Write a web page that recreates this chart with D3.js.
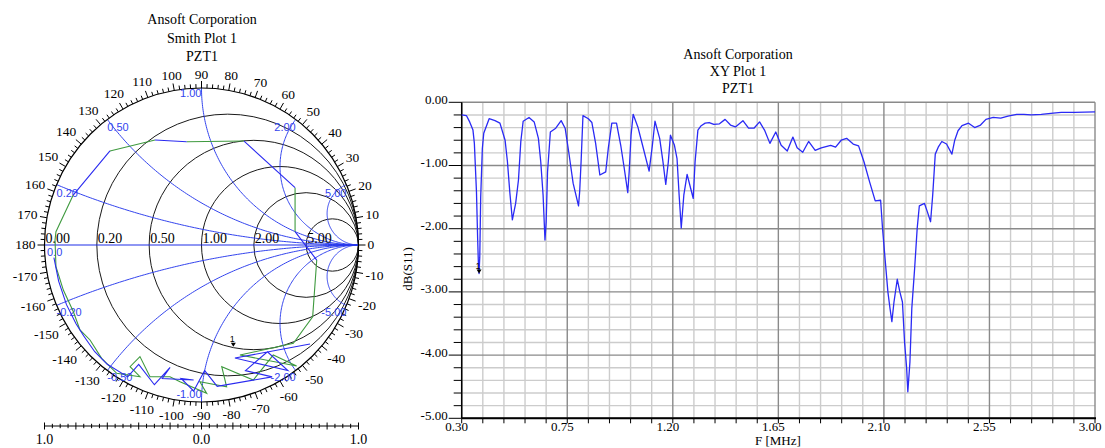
<!DOCTYPE html>
<html>
<head>
<meta charset="utf-8">
<script src="https://cdn.jsdelivr.net/npm/d3@7"></script>
<style>
  body { margin: 0; background: #ffffff; }
  svg { display: block; }
  text { font-family: "Liberation Serif", "Times New Roman", serif; fill: #000; }
  .sans { font-family: "Liberation Sans", Arial, sans-serif; }
</style>
</head>
<body>
<svg id="chart" width="1105" height="448"></svg>
<script>
// ---------------- XY plot data: dB(S11) of PZT1 versus frequency ----------------
const freqMHz = [
  0.300, 0.320, 0.334, 0.348, 0.354, 0.363, 0.368, 0.371, 0.374, 0.377, 0.381, 0.388, 0.394,
  0.417, 0.442, 0.463, 0.485, 0.495, 0.505, 0.516, 0.530, 0.542, 0.552, 0.562, 0.587, 0.609,
  0.627, 0.637, 0.647, 0.655, 0.660, 0.666, 0.678, 0.701, 0.724, 0.741, 0.758, 0.775, 0.798,
  0.803, 0.809, 0.817, 0.840, 0.855, 0.871, 0.889, 0.914, 0.925, 0.940, 0.960, 0.978, 0.992,
  1.008, 1.014, 1.022, 1.031, 1.051, 1.071, 1.099, 1.113, 1.124, 1.144, 1.158, 1.170, 1.181,
  1.190, 1.207, 1.218, 1.227, 1.236, 1.247, 1.261, 1.276, 1.287, 1.295, 1.307, 1.321, 1.338,
  1.355, 1.375, 1.399, 1.423, 1.446, 1.467, 1.499, 1.523, 1.546, 1.570, 1.591, 1.614, 1.639,
  1.662, 1.688, 1.712, 1.730, 1.754, 1.779, 1.807, 1.833, 1.873, 1.894, 1.918, 1.941, 1.969,
  1.992, 2.015, 2.039, 2.063, 2.086, 2.094, 2.106, 2.117, 2.126, 2.134, 2.143, 2.157, 2.168,
  2.179, 2.188, 2.197, 2.202, 2.211, 2.219, 2.231, 2.242, 2.251, 2.273, 2.285, 2.299, 2.308,
  2.319, 2.333, 2.347, 2.367, 2.390, 2.402, 2.416, 2.433, 2.461, 2.487, 2.512, 2.535, 2.566,
  2.598, 2.629, 2.666, 2.697, 2.728, 2.771, 2.822, 2.856, 2.913, 3.000
];
const dbS11 = [
  -0.20, -0.21, -0.31, -0.44, -0.65, -1.42, -2.16, -2.53, -2.71, -2.45, -1.50, -0.73, -0.49,
  -0.26, -0.29, -0.33, -0.60, -0.94, -1.42, -1.86, -1.60, -1.23, -0.62, -0.30, -0.24, -0.31,
  -0.57, -0.94, -1.47, -2.18, -1.90, -1.10, -0.47, -0.41, -0.29, -0.41, -0.83, -1.28, -1.64,
  -1.41, -0.94, -0.21, -0.26, -0.32, -0.65, -1.15, -1.10, -0.73, -0.33, -0.33, -0.68, -1.02,
  -1.43, -1.10, -0.52, -0.19, -0.39, -0.68, -1.09, -0.68, -0.30, -0.57, -0.94, -1.30, -0.94,
  -0.52, -0.68, -0.89, -1.47, -1.99, -1.47, -1.14, -1.36, -1.52, -0.94, -0.44, -0.37, -0.33,
  -0.32, -0.35, -0.34, -0.27, -0.36, -0.39, -0.29, -0.41, -0.41, -0.31, -0.44, -0.65, -0.47,
  -0.68, -0.77, -0.55, -0.72, -0.79, -0.62, -0.76, -0.72, -0.68, -0.71, -0.60, -0.57, -0.66,
  -0.69, -0.94, -1.26, -1.56, -1.55, -1.99, -2.52, -3.00, -3.26, -3.47, -3.16, -2.80, -3.00,
  -3.16, -3.79, -4.21, -4.58, -4.11, -3.26, -2.63, -1.99, -1.64, -1.60, -1.73, -1.89, -1.47,
  -0.82, -0.70, -0.62, -0.66, -0.82, -0.60, -0.45, -0.37, -0.33, -0.40, -0.36, -0.27, -0.24,
  -0.25, -0.22, -0.19, -0.19, -0.20, -0.19, -0.17, -0.16, -0.16, -0.15
];
const xTickLabels = ["0.30", "0.75", "1.20", "1.65", "2.10", "2.55", "3.00"];
const yTickLabels = ["0.00", "-1.00", "-2.00", "-3.00", "-4.00", "-5.00"];
const xyTitles = ["Ansoft Corporation", "XY Plot 1", "PZT1"];
const xyMarker = { name: "1", f: 0.374, db: -2.71 };

// ---------------- Smith chart data ----------------
const smithTitles = ["Ansoft Corporation", "Smith Plot 1", "PZT1"];
const resistanceValues = [0, 0.2, 0.5, 1, 2, 5];
const reactanceValues = [0.2, 0.5, 1, 2, 5, -0.2, -0.5, -1, -2, -5];
const angleLabels = [0, 10, 20, 30, 40, 50, 60, 70, 80, 90, 100, 110, 120, 130, 140, 150, 160, 170, 180,
                     -170, -160, -150, -140, -130, -120, -110, -100, -90, -80, -70, -60, -50, -40, -30, -20, -10];
const rulerLabels = [{ v: -1, t: "1.0" }, { v: 0, t: "0.0" }, { v: 1, t: "1.0" }];
// reflection coefficient traces [Re, Im]; null marks a break in the trace
const smithGreen = [
  [-0.933, 0.032], [-0.927, 0.085], [-0.817, 0.318], null,
  [-0.583, 0.599], [-0.296, 0.669], null,
  [-0.094, 0.658], [0.271, 0.662], null,
  [0.596, 0.365], [0.596, 0.085], null,
  [0.734, -0.096], [0.708, -0.457], [0.585, -0.626], [0.245, -0.701], [0.606, -0.771],
  [0.457, -0.701], [0.330, -0.860], [0.129, -0.775], [0.160, -0.903], [-0.010, -0.871],
  [0.033, -0.945], [-0.137, -0.871], [-0.201, -0.839], [-0.328, -0.839], [-0.392, -0.711],
  [-0.455, -0.775], [-0.392, -0.839], [-0.540, -0.817], [-0.636, -0.722], [-0.710, -0.605],
  [-0.774, -0.541], [-0.816, -0.425], [-0.880, -0.287], [-0.927, -0.138], [-0.933, 0.032]
];
const smithBlue = [
  [-0.817, 0.318], [-0.583, 0.599], null,
  [-0.296, 0.669], [-0.094, 0.658], null,
  [0.271, 0.662], [0.596, 0.365], null,
  [0.596, 0.085], [0.734, -0.096], null,
  [0.691, -0.631], [0.213, -0.720], [0.550, -0.800], [0.420, -0.680], [0.280, -0.800],
  [0.450, -0.840], [0.100, -0.900], [0.020, -0.800], [-0.050, -0.930], [-0.130, -0.850],
  [-0.050, -0.860], [-0.250, -0.850], [-0.200, -0.780], [-0.300, -0.890], [-0.400, -0.760],
  [-0.470, -0.840], [-0.600, -0.760], [-0.680, -0.680], [-0.750, -0.580], [-0.800, -0.500],
  [-0.860, -0.380], [-0.910, -0.230], [-0.940, -0.080]
];
const smithMarker = { name: "1", re: 0.203, im: -0.648 };

// =====================================================================
const svg = d3.select("#chart");
svg.append("rect").attr("width", 1105).attr("height", 448).attr("fill", "#fff");

// ---------------- XY plot ----------------
const plot = { left: 461.7, right: 1095, top: 102.3, bottom: 418.3 };
const x = d3.scaleLinear().domain([0.30, 3.00]).range([plot.left, plot.right]);
const y = d3.scaleLinear().domain([-5, 0]).range([plot.bottom, plot.top]);
const xMajor = xTickLabels.map(Number);
const yMajor = yTickLabels.map(Number);
const xMinor = d3.range(0, 31).map(i => +(0.30 + i * 0.09).toFixed(2));
const yMinor = d3.range(0, 26).map(i => +(-5 + i * 0.2).toFixed(1));
const isMajorX = v => xMajor.some(m => Math.abs(m - v) < 1e-6);
const isMajorY = v => yMajor.some(m => Math.abs(m - v) < 1e-6);

const xyG = svg.append("g");
const grid = xyG.append("g");
grid.selectAll(".vminor").data(xMinor.filter(v => !isMajorX(v))).join("line")
  .attr("x1", d => x(d)).attr("x2", d => x(d)).attr("y1", plot.top).attr("y2", plot.bottom)
  .attr("stroke", "#cccccc").attr("stroke-width", 1.4);
grid.selectAll(".hminor").data(yMinor.filter(v => !isMajorY(v))).join("line")
  .attr("x1", plot.left).attr("x2", plot.right).attr("y1", d => y(d)).attr("y2", d => y(d))
  .attr("stroke", "#cccccc").attr("stroke-width", 1.4);
grid.selectAll(".vmajor").data(xMajor).join("line")
  .attr("x1", d => x(d)).attr("x2", d => x(d)).attr("y1", plot.top).attr("y2", plot.bottom)
  .attr("stroke", "#8a8a8a").attr("stroke-width", 1.4);
grid.selectAll(".hmajor").data(yMajor).join("line")
  .attr("x1", plot.left).attr("x2", plot.right).attr("y1", d => y(d)).attr("y2", d => y(d))
  .attr("stroke", "#8a8a8a").attr("stroke-width", 1.4);

// axes
xyG.append("line").attr("x1", plot.left).attr("x2", plot.left).attr("y1", plot.top).attr("y2", plot.bottom)
  .attr("stroke", "#000").attr("stroke-width", 1.5);
xyG.append("line").attr("x1", plot.left).attr("x2", plot.right + 1).attr("y1", plot.bottom).attr("y2", plot.bottom)
  .attr("stroke", "#000").attr("stroke-width", 2);

// y ticks and labels
xyG.selectAll(".ytick").data(yMinor).join("line")
  .attr("x1", d => plot.left - (isMajorY(d) ? 13 : 8)).attr("x2", plot.left)
  .attr("y1", d => y(d)).attr("y2", d => y(d)).attr("stroke", "#000").attr("stroke-width", 1);
xyG.selectAll(".ylab").data(yTickLabels).join("text")
  .attr("x", plot.left - 14).attr("y", d => y(+d) + 1.5)
  .attr("text-anchor", "end").attr("font-size", 13).text(d => d);

// x ticks and labels
xyG.selectAll(".xtick").data(xMinor).join("line")
  .attr("x1", d => x(d)).attr("x2", d => x(d))
  .attr("y1", plot.bottom).attr("y2", plot.bottom + 5).attr("stroke", "#000").attr("stroke-width", 1);
xyG.selectAll(".xlab").data(xTickLabels).join("text")
  .attr("x", d => x(+d) - 5).attr("y", plot.bottom + 12.4)
  .attr("text-anchor", "middle").attr("font-size", 13).text(d => d);

// axis titles
xyG.append("text").attr("x", 755).attr("y", 445.2).attr("font-size", 13).text("F [MHz]");
xyG.append("text").attr("transform", "translate(412,269) rotate(-90)")
  .attr("text-anchor", "middle").attr("font-size", 13).text("dB(S11)");

// titles
xyG.selectAll(".title").data(xyTitles).join("text")
  .attr("x", 738).attr("y", (d, i) => 58.5 + i * 17)
  .attr("text-anchor", "middle").attr("font-size", 14).text(d => d);

// curve
const xyPoints = freqMHz.map((f, i) => [f, dbS11[i]]);
xyG.append("path").datum(xyPoints)
  .attr("d", d3.line().x(d => x(d[0])).y(d => y(d[1])))
  .attr("fill", "none").attr("stroke", "#2a2af5").attr("stroke-width", 1.3)
  .attr("stroke-linejoin", "round");

// marker
{
  const mx = x(xyMarker.f), my = y(xyMarker.db);
  xyG.append("path")
    .attr("d", `M${mx - 2.5},${my - 4}L${mx + 2.5},${my - 4}L${mx},${my}Z`).attr("fill", "#000");
  xyG.append("text").attr("class", "sans").attr("x", mx - 1).attr("y", my - 5)
    .attr("text-anchor", "middle").attr("font-size", 9).text(xyMarker.name);
}

// ---------------- Smith chart ----------------
const cx = 201.5, cy = 245, R = 157;
const sx = d3.scaleLinear().domain([-1, 1]).range([cx - R, cx + R]);
const sy = d3.scaleLinear().domain([-1, 1]).range([cy + R, cy - R]);
const sm = svg.append("g");
const BLUE = "#3344ee";

// constant-resistance circles
sm.selectAll(".rc").data(resistanceValues.filter(r => r > 0)).join("circle")
  .attr("cx", r => sx(r / (1 + r))).attr("cy", sy(0))
  .attr("r", r => (sx(1) - sx(0)) / (1 + r))
  .attr("fill", "none").attr("stroke", "#1a1a1a").attr("stroke-width", 1);

// constant-reactance arcs from the outer circle to the open-circuit point
function reactanceArc(xv) {
  const c = [1, 1 / xv], rad = 1 / Math.abs(xv);
  const p = [(xv * xv - 1) / (xv * xv + 1), 2 * xv / (xv * xv + 1)];
  const a0 = Math.atan2(p[1] - c[1], p[0] - c[0]);
  const a1 = Math.atan2(0 - c[1], 1 - c[0]);
  let d = a1 - a0;
  while (d > Math.PI) d -= 2 * Math.PI;
  while (d < -Math.PI) d += 2 * Math.PI;
  return d3.range(0, 121).map(i => {
    const a = a0 + d * i / 120;
    return [c[0] + rad * Math.cos(a), c[1] + rad * Math.sin(a)];
  });
}
const gammaLine = d3.line().x(d => sx(d[0])).y(d => sy(d[1]));
sm.selectAll(".xa").data(reactanceValues).join("path")
  .attr("d", xv => gammaLine(reactanceArc(xv)))
  .attr("fill", "none").attr("stroke", BLUE).attr("stroke-width", 1);
// real axis (zero reactance)
sm.append("line").attr("x1", sx(-1)).attr("x2", sx(1)).attr("y1", sy(0)).attr("y2", sy(0))
  .attr("stroke", "#1f2fe8").attr("stroke-width", 1.2);

// outer circle and angle ticks
sm.append("circle").attr("cx", sx(0)).attr("cy", sy(0)).attr("r", R)
  .attr("fill", "none").attr("stroke", "#000").attr("stroke-width", 1.2);
sm.selectAll(".at").data(d3.range(0, 360, 2)).join("line")
  .each(function (a) {
    const t = a * Math.PI / 180, len = a % 10 === 0 ? 7 : 4;
    d3.select(this)
      .attr("x1", cx + R * Math.cos(t)).attr("y1", cy - R * Math.sin(t))
      .attr("x2", cx + (R + len) * Math.cos(t)).attr("y2", cy - (R + len) * Math.sin(t));
  })
  .attr("stroke", "#000").attr("stroke-width", 1);

// angle labels
sm.selectAll(".al").data(angleLabels).join("text")
  .attr("font-size", 13.5).attr("text-anchor", "middle").attr("dy", "0.33em")
  .text(d => String(d))
  .each(function (a) {
    const w = this.getComputedTextLength(), h = 9.5;
    const t = a * Math.PI / 180;
    const dist = R + 9 + 0.5 * w * Math.abs(Math.cos(t)) + 0.5 * h * Math.abs(Math.sin(t));
    d3.select(this).attr("x", cx + dist * Math.cos(t)).attr("y", cy - dist * Math.sin(t));
  });

// resistance labels along the real axis
sm.selectAll(".rl").data(resistanceValues).join("text")
  .attr("x", r => sx((r - 1) / (r + 1)) + 1).attr("y", sy(0) - 2.5)
  .attr("font-size", 14).text(r => r.toFixed(2));

// reactance labels at the outer circle
sm.selectAll(".xl").data(reactanceValues).join("text")
  .attr("class", "sans").attr("font-size", 11).style("fill", BLUE)
  .attr("text-anchor", xv => Math.abs(xv) < 1 ? "start" : "end")
  .attr("x", xv => sx((xv * xv - 1) / (xv * xv + 1)))
  .attr("y", xv => {
    const yi = sy(2 * xv / (xv * xv + 1));
    if (xv === 1) return yi + 9;
    if (xv === -1) return yi - 4;
    return yi + (xv > 0 ? 12 : 10.5);
  })
  .text(xv => xv.toFixed(2));
sm.append("text").attr("class", "sans").attr("font-size", 11).style("fill", BLUE)
  .attr("x", sx(-1) + 2.5).attr("y", sy(0) + 11).text("0.0");

// traces
const traceLine = d3.line().defined(d => d !== null).x(d => sx(d[0])).y(d => sy(d[1]));
sm.append("path").attr("d", traceLine(smithGreen))
  .attr("fill", "none").attr("stroke", "#3f9a3f").attr("stroke-width", 1.1);
sm.append("path").attr("d", traceLine(smithBlue))
  .attr("fill", "none").attr("stroke", "#2a2af0").attr("stroke-width", 1.1);

// marker
{
  const mx = sx(smithMarker.re), my = sy(smithMarker.im);
  sm.append("path").attr("d", `M${mx - 2.5},${my - 4}L${mx + 2.5},${my - 4}L${mx},${my}Z`).attr("fill", "#000");
  sm.append("text").attr("class", "sans").attr("x", mx - 1).attr("y", my - 5)
    .attr("text-anchor", "middle").attr("font-size", 9).text(smithMarker.name);
}

// titles
sm.selectAll(".title").data(smithTitles).join("text")
  .attr("x", 202).attr("y", (d, i) => 24 + i * 18.5)
  .attr("text-anchor", "middle").attr("font-size", 14).text(d => d);

// bottom magnitude ruler
const rulerY = 426;
sm.append("line").attr("x1", sx(-1)).attr("x2", sx(1)).attr("y1", rulerY).attr("y2", rulerY)
  .attr("stroke", "#000").attr("stroke-width", 1);
sm.selectAll(".rt").data(d3.range(-20, 21)).join("line")
  .attr("x1", k => sx(k * 0.05)).attr("x2", k => sx(k * 0.05))
  .attr("y1", k => rulerY - (k % 4 === 0 ? 3.5 : 2.2))
  .attr("y2", k => rulerY + (k % 4 === 0 ? 3.5 : 2.2))
  .attr("stroke", "#000").attr("stroke-width", 1);
sm.selectAll(".rlab").data(rulerLabels).join("text")
  .attr("x", d => sx(d.v)).attr("y", 443.5).attr("text-anchor", "middle")
  .attr("font-size", 14).text(d => d.t);
</script>
</body>
</html>
